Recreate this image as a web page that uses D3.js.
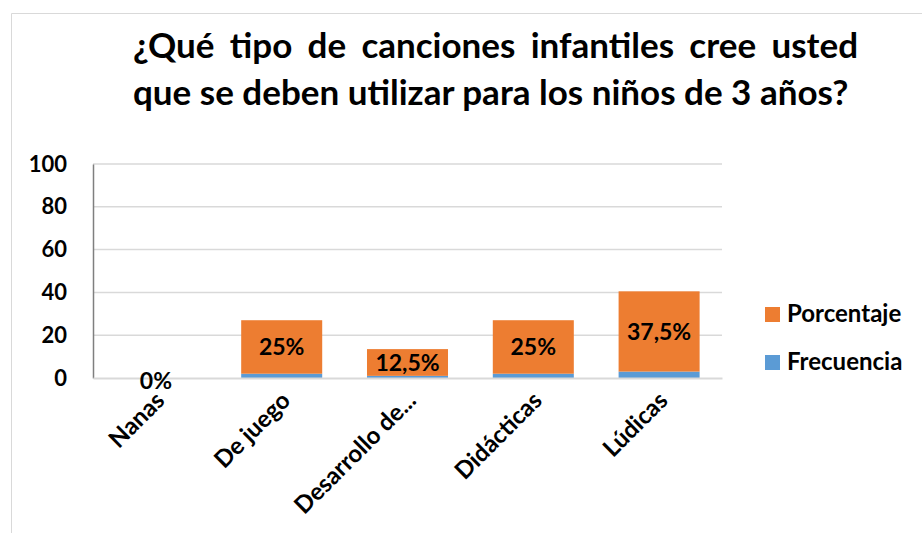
<!DOCTYPE html>
<html>
<head>
<meta charset="utf-8">
<script src="https://cdn.jsdelivr.net/npm/d3@7"></script>
<style>
  body { margin: 0; background: #fff; }
  text { font-family: Lato, "Open Sans", sans-serif; font-weight: bold; }
</style>
</head>
<body>
<svg id="chart" width="922" height="533"></svg>
<script>
// datos
var categorias = ["Nanas", "De juego", "Desarrollo de...", "Didácticas", "Lúdicas"];
var frecuencia = [0, 2, 1, 2, 3];
var porcentaje = [0, 25, 12.5, 25, 37.5];
var etiquetas = ["0%", "25%", "12,5%", "25%", "37,5%"];
var yTicks = [0, 20, 40, 60, 80, 100];
var series = ["Frecuencia", "Porcentaje"];
var colores = ["#5B9BD5", "#ED7D31"];

var svg = d3.select("#chart");

// marco del grafico
svg.append("path")
    .attr("d", "M11.5,540V13.5H930")
    .attr("fill", "none")
    .attr("stroke", "#d9d9d9");

// titulo (justificado)
var titulo1 = svg.append("text").attr("x", 133).attr("y", 58)
    .attr("font-size", 29).attr("fill", "#000")
    .text("¿Qué tipo de canciones infantiles cree usted");
var titulo2 = svg.append("text").attr("x", 133).attr("y", 105)
    .attr("font-size", 29).attr("fill", "#000")
    .text("que se deben utilizar para los niños de 3 años?");
// ajustar tamaño para que la segunda linea mida lo mismo que en el original
var w2 = titulo2.node().getComputedTextLength();
var fs = Math.min(35, 29 * 717 / w2);
titulo1.attr("font-size", fs);
titulo2.attr("font-size", fs);
var w1 = titulo1.node().getComputedTextLength();
var extra = (858 - 133 - w1) / 6;
titulo1.attr("word-spacing", Math.max(0, extra));

var margin = {left: 93, right: 722, top: 164, bottom: 378};

var x = d3.scaleBand()
    .domain(categorias)
    .range([margin.left, margin.right])
    .paddingInner(0.356)
    .paddingOuter(0.178);

var y = d3.scaleLinear()
    .domain([0, 100])
    .range([margin.bottom, margin.top]);

// lineas de cuadricula
svg.append("g")
    .selectAll("line")
    .data(yTicks.slice(1))
    .enter().append("line")
    .attr("x1", margin.left).attr("x2", margin.right)
    .attr("y1", function(d) { return y(d); })
    .attr("y2", function(d) { return y(d); })
    .attr("stroke", "#d9d9d9").attr("stroke-width", 1.5);

// eje y
var yAxis = svg.append("g")
    .attr("transform", "translate(" + margin.left + ",0)")
    .call(d3.axisLeft(y).tickValues(yTicks).tickSize(0).tickPadding(26));
yAxis.select(".domain").attr("stroke", "#7f7f7f").attr("stroke-width", 1.5);
yAxis.selectAll("text").attr("font-size", 22).attr("fill", "#000")
    .style("font-family", "Lato, sans-serif").style("font-weight", "bold");

// barras apiladas
var filas = categorias.map(function(c, i) {
    return {cat: c, Frecuencia: frecuencia[i], Porcentaje: porcentaje[i]};
});
var stack = d3.stack().keys(series)(filas);

svg.append("g")
    .selectAll("g")
    .data(stack)
    .enter().append("g")
    .attr("fill", function(d, i) { return colores[i]; })
    .selectAll("rect")
    .data(function(d) { return d; })
    .enter().append("rect")
    .attr("x", function(d) { return x(d.data.cat); })
    .attr("width", x.bandwidth())
    .attr("y", function(d) { return y(d[1]); })
    .attr("height", function(d) { return y(d[0]) - y(d[1]); });

// eje x
var xAxis = svg.append("g")
    .attr("transform", "translate(0," + margin.bottom + ")")
    .call(d3.axisBottom(x).tickSize(0).tickSizeOuter(0));
xAxis.select(".domain").attr("stroke", "#d9d9d9").attr("stroke-width", 2);
xAxis.selectAll("text")
    .attr("font-size", 24).attr("fill", "#000")
    .style("font-family", "Lato, sans-serif").style("font-weight", "bold")
    .attr("text-anchor", "end")
    .attr("dy", "0.35em")
    .attr("transform", "translate(2,16) rotate(-45)");

// etiquetas de datos
var pctLayer = stack[1];
svg.append("g")
    .selectAll("text")
    .data(pctLayer)
    .enter().append("text")
    .attr("x", function(d) { return x(d.data.cat) + x.bandwidth() / 2; })
    .attr("y", function(d) { return (y(d[0]) + y(d[1])) / 2 + (d[1] === d[0] ? 3 : 0); })
    .attr("dy", "0.35em")
    .attr("text-anchor", "middle")
    .attr("font-size", 23)
    .attr("fill", "#000")
    .text(function(d, i) { return etiquetas[i]; });

// leyenda
var leyenda = svg.append("g").attr("transform", "translate(765,0)");
var itemsLeyenda = [series[1], series[0]];
leyenda.selectAll("rect")
    .data(itemsLeyenda)
    .enter().append("rect")
    .attr("x", 0)
    .attr("y", function(d, i) { return 307 + i * 48; })
    .attr("width", 15).attr("height", 15)
    .attr("fill", function(d) { return colores[series.indexOf(d)]; });
leyenda.selectAll("text")
    .data(itemsLeyenda)
    .enter().append("text")
    .attr("x", 22)
    .attr("y", function(d, i) { return 314 + i * 48; })
    .attr("dy", "0.35em")
    .attr("font-size", 24)
    .attr("fill", "#000")
    .text(function(d) { return d; });
</script>
</body>
</html>
